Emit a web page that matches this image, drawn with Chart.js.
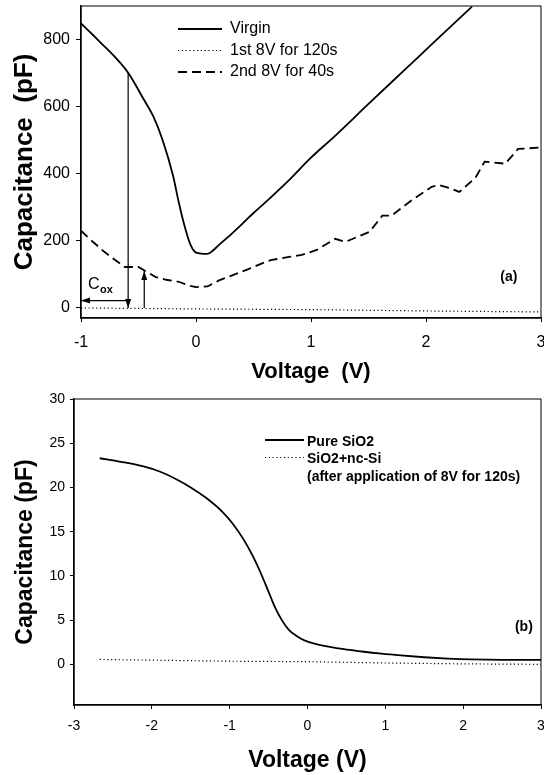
<!DOCTYPE html>
<html><head><meta charset="utf-8">
<script src="https://cdn.jsdelivr.net/npm/chart.js@4.4.1/dist/chart.umd.min.js"></script>
<style>
html,body{margin:0;padding:0;background:#fff;}
#top{position:absolute;left:0;top:0;width:544px;height:390px;}
#bot{position:absolute;left:0;top:390px;width:544px;height:385px;}
</style></head><body>
<div id="top"><canvas id="c1"></canvas></div>
<div id="bot"><canvas id="c2"></canvas></div>
<script>
// ---------- Panel (a) data ----------
const aXTicks = [-1, 0, 1, 2, 3];
const aYTicks = [0, 200, 400, 600, 800];
const aLabels = ['Virgin', '1st 8V for 120s', '2nd 8V for 40s'];
const virginV = [-1, -0.9, -0.83, -0.7, -0.59, -0.46, -0.37, -0.29, -0.2, -0.15, -0.1, -0.05, 0, 0.1, 0.15, 0.2, 0.3, 0.4, 0.5, 0.62, 0.8, 1.0, 1.2, 1.5, 1.8, 2.1, 2.4];
const virginC = [848, 815, 791, 746, 701, 625, 570, 500, 395, 315, 245, 190, 165, 161, 172, 188, 218, 250, 283, 320, 378, 448, 510, 608, 705, 802, 898];
const firstV = [-1, 0, 1, 2, 3];
const firstC = [0, -3, -5, -9, -12];
const secondV = [-1, -0.9, -0.8, -0.7, -0.62, -0.5, -0.43, -0.35, -0.26, -0.15, -0.05, 0.0, 0.1, 0.2, 0.32, 0.45, 0.61, 0.66, 0.81, 0.92, 1.05, 1.21, 1.3, 1.51, 1.62, 1.7, 1.88, 2.05, 2.11, 2.2, 2.29, 2.43, 2.51, 2.69, 2.8, 3.0];
const secondC = [230, 198, 168, 142, 122, 122, 108, 92, 84, 78, 66, 62, 64, 82, 98, 115, 138, 143, 152, 158, 173, 206, 197, 227, 275, 275, 322, 361, 367, 358, 346, 388, 436, 430, 474, 478];
// C_ox annotation arrows, in data units: [fromV, fromC, toV, toC]
const coxArrows = [[-0.59, 700, -0.59, 0], [-0.45, 0, -0.45, 110], [-0.59, 22, -1.0, 22]];
const coxLabelAt = [-0.94, 70];
const aTagAt = [2.72, 92];

// ---------- Panel (b) data ----------
const bXTicks = [-3, -2, -1, 0, 1, 2, 3];
const bYTicks = [0, 5, 10, 15, 20, 25, 30];
const bLabels = ['Pure SiO2', 'SiO2+nc-Si\n(after application of 8V for 120s)'];
const pureV = [-2.67, -2.4, -2.12, -1.9, -1.68, -1.5, -1.3, -1.1, -0.96, -0.82, -0.7, -0.59, -0.5, -0.42, -0.33, -0.24, -0.14, -0.04, 0.1, 0.4, 0.7, 0.95, 1.2, 1.5, 1.8, 2.1, 2.5, 3.0];
const pureC = [23.3, 22.9, 22.4, 21.8, 20.9, 20.0, 18.8, 17.3, 15.9, 14.1, 12.2, 10.1, 8.2, 6.5, 5.0, 3.9, 3.2, 2.7, 2.3, 1.8, 1.45, 1.2, 1.0, 0.8, 0.65, 0.55, 0.5, 0.5];
const ncV = [-2.67, -1, 0, 1, 2, 3];
const ncC = [0.55, 0.35, 0.3, 0.15, 0.05, 0.0];
const bTagAt = [2.78, 4.2];

const FAM = "'Liberation Sans', Arial, Helvetica, sans-serif";
Chart.defaults.font.family = FAM;
Chart.defaults.color = '#000';

const pts = (xs, ys) => xs.map((x, i) => ({x: x, y: ys[i]}));

function arrow(ctx, x1, y1, x2, y2) {
  ctx.beginPath(); ctx.moveTo(x1, y1); ctx.lineTo(x2, y2); ctx.stroke();
  const a = Math.atan2(y2 - y1, x2 - x1), L = 9, W = 3;
  ctx.beginPath();
  ctx.moveTo(x2, y2);
  ctx.lineTo(x2 - L * Math.cos(a) + W * Math.sin(a), y2 - L * Math.sin(a) - W * Math.cos(a));
  ctx.lineTo(x2 - L * Math.cos(a) - W * Math.sin(a), y2 - L * Math.sin(a) + W * Math.cos(a));
  ctx.closePath(); ctx.fill();
}

function drawLegend(ctx, chart, cfg) {
  ctx.save();
  ctx.fillStyle = '#000'; ctx.strokeStyle = '#000';
  ctx.font = cfg.font; ctx.textBaseline = 'middle'; ctx.textAlign = 'left';
  let row = 0;
  chart.data.datasets.forEach((ds) => {
    const lines = ds.label.split('\n');
    const y = cfg.y0 + row * cfg.dy;
    ctx.save();
    ctx.lineWidth = ds.borderWidth; ctx.setLineDash(ds.borderDash || []);
    ctx.beginPath(); ctx.moveTo(cfg.x0, y + (cfg.lineOff || 0)); ctx.lineTo(cfg.x1, y + (cfg.lineOff || 0)); ctx.stroke();
    ctx.restore();
    lines.forEach((t, k) => { ctx.fillText(t, cfg.tx, y + k * cfg.dy); });
    row += lines.length;
  });
  ctx.restore();
}

function frame(ctx, ca) {
  ctx.save(); ctx.strokeStyle = '#000'; ctx.lineWidth = 1;
  ctx.strokeRect(ca.left, ca.top, ca.right - ca.left, ca.bottom - ca.top);
  ctx.restore();
}

const plugA = {
  id: 'plugA',
  afterDraw(chart) {
    const ctx = chart.ctx, xs = chart.scales.x, ys = chart.scales.y;
    frame(ctx, chart.chartArea);
    ctx.save();
    ctx.strokeStyle = '#000'; ctx.fillStyle = '#000'; ctx.lineWidth = 1.2;
    coxArrows.forEach(a => arrow(ctx, xs.getPixelForValue(a[0]), ys.getPixelForValue(a[1]), xs.getPixelForValue(a[2]), ys.getPixelForValue(a[3])));
    const cx = xs.getPixelForValue(coxLabelAt[0]), cy = ys.getPixelForValue(coxLabelAt[1]);
    ctx.font = '16px ' + FAM; ctx.textBaseline = 'middle'; ctx.textAlign = 'left';
    ctx.fillText('C', cx, cy);
    const w = ctx.measureText('C').width;
    ctx.font = 'bold 11px ' + FAM;
    ctx.fillText('ox', cx + w + 0.5, cy + 6);
    ctx.font = 'bold 14px ' + FAM; ctx.textAlign = 'center';
    ctx.fillText('(a)', xs.getPixelForValue(aTagAt[0]), ys.getPixelForValue(aTagAt[1]));
    ctx.restore();
    drawLegend(ctx, chart, {font: '16px ' + FAM, x0: 178, x1: 222, tx: 230, y0: 29, dy: 21.5});
  }
};

const plugB = {
  id: 'plugB',
  afterDraw(chart) {
    const ctx = chart.ctx, xs = chart.scales.x, ys = chart.scales.y;
    frame(ctx, chart.chartArea);
    ctx.save();
    ctx.fillStyle = '#000';
    ctx.font = 'bold 14px ' + FAM; ctx.textAlign = 'center'; ctx.textBaseline = 'middle';
    ctx.fillText('(b)', xs.getPixelForValue(bTagAt[0]), ys.getPixelForValue(bTagAt[1]));
    ctx.restore();
    drawLegend(ctx, chart, {font: 'bold 14px ' + FAM, x0: 265, x1: 304, tx: 307, y0: 52, dy: 17.5, lineOff: -2});
  }
};

function axes(o) {
  return {
    x: {
      type: 'linear', min: o.xmin, max: o.xmax,
      afterBuildTicks: s => { s.ticks = o.xt.map(v => ({value: v})); },
      afterFit: s => { s.height = o.xh; s.paddingLeft = 0; s.paddingRight = 0; },
      ticks: {font: {size: o.tf}, color: '#000', padding: o.xpad, maxRotation: 0, autoSkip: false},
      grid: {drawOnChartArea: false, drawTicks: true, tickLength: 4, color: '#000', lineWidth: 1},
      border: {display: true, color: '#000', width: 1.5},
      title: {display: true, text: o.xtitle, color: '#000', font: {size: o.xtf, weight: 'bold'}, padding: {top: 0, bottom: o.xtpb}}
    },
    y: {
      type: 'linear', min: o.ymin, max: o.ymax,
      afterBuildTicks: s => { s.ticks = o.yt.map(v => ({value: v})); },
      afterFit: s => { s.width = o.yw; s.paddingTop = 0; s.paddingBottom = 0; },
      ticks: {font: {size: o.tf}, color: '#000', padding: o.ypad, autoSkip: false},
      grid: {drawOnChartArea: false, drawTicks: true, tickLength: o.ytl, color: '#000', lineWidth: 1},
      border: {display: true, color: '#000', width: 1.5},
      title: {display: true, text: o.ytitle, color: '#000', font: {size: o.ytf, weight: 'bold'}, padding: {top: o.ytpt, bottom: 0}}
    }
  };
}

const common = {
  responsive: true, maintainAspectRatio: false, animation: false, devicePixelRatio: 1,
  plugins: {legend: {display: false}, tooltip: {enabled: false}},
  elements: {point: {radius: 0}}
};

new Chart(document.getElementById('c1'), {
  type: 'line',
  data: {datasets: [
    {label: aLabels[0], data: pts(virginV, virginC), borderColor: '#000', borderWidth: 1.8, cubicInterpolationMode: 'monotone', fill: false},
    {label: aLabels[1], data: pts(firstV, firstC), borderColor: '#000', borderWidth: 1.2, borderDash: [1.2, 2.6], tension: 0, fill: false},
    {label: aLabels[2], data: pts(secondV, secondC), borderColor: '#000', borderWidth: 1.8, borderDash: [9, 5], tension: 0, fill: false}
  ]},
  options: Object.assign({}, common, {
    layout: {padding: {top: 6, right: 3, bottom: 0, left: 0}},
    scales: axes({xmin: -1, xmax: 3, ymin: -30, ymax: 900, xt: aXTicks, yt: aYTicks, xh: 72, yw: 81, tf: 16, xpad: 11, ypad: 6, ytl: 5,
      xtitle: 'Voltage  (V)', xtf: 22, xtpb: 5, ytitle: 'Capacitance  (pF)', ytf: 26, ytpt: 9})
  }),
  plugins: [plugA]
});

new Chart(document.getElementById('c2'), {
  type: 'line',
  data: {datasets: [
    {label: bLabels[0], data: pts(pureV, pureC), borderColor: '#000', borderWidth: 1.8, cubicInterpolationMode: 'monotone', fill: false},
    {label: bLabels[1], data: pts(ncV, ncC), borderColor: '#000', borderWidth: 1.2, borderDash: [1.2, 2.6], tension: 0, fill: false}
  ]},
  options: Object.assign({}, common, {
    layout: {padding: {top: 9, right: 3, bottom: 0, left: 0}},
    scales: axes({xmin: -3, xmax: 3, ymin: -4.6, ymax: 30, xt: bXTicks, yt: bYTicks, xh: 70, yw: 74, tf: 14, xpad: 9, ypad: 5, ytl: 4,
      xtitle: 'Voltage (V)', xtf: 23, xtpb: 1, ytitle: 'Capacitance (pF)', ytf: 23, ytpt: 12})
  }),
  plugins: [plugB]
});
</script>
</body></html>
